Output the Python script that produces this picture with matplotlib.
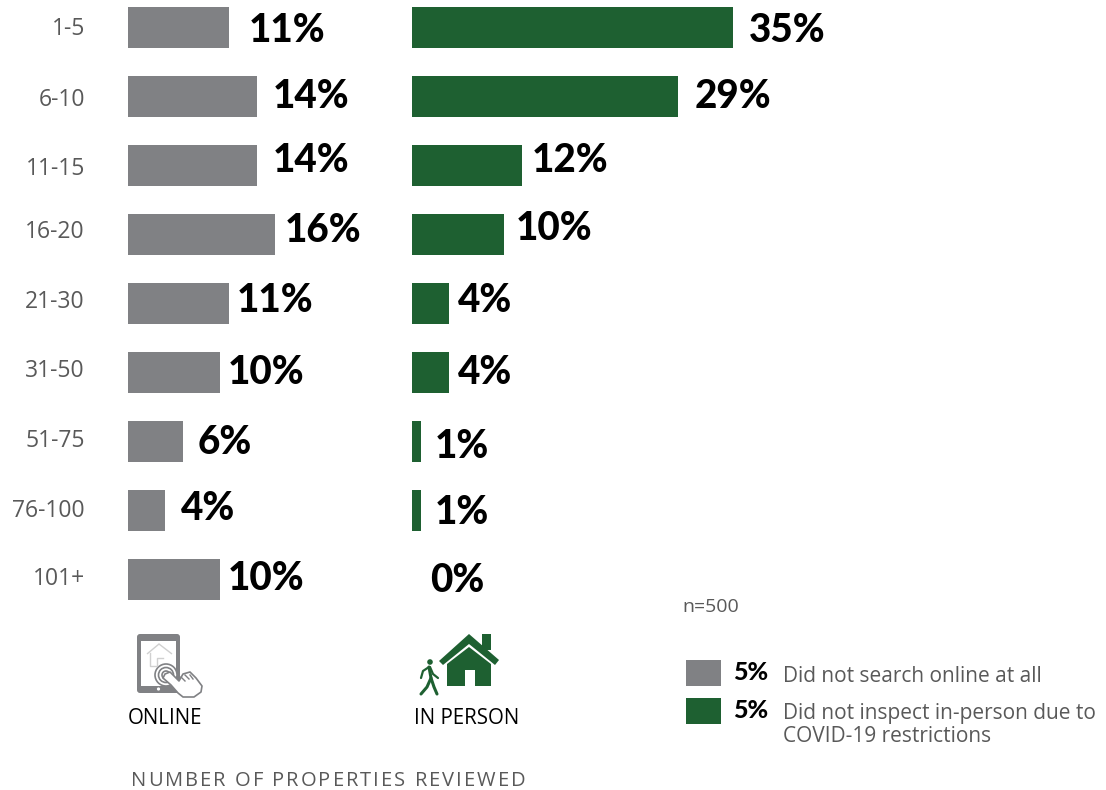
import matplotlib.pyplot as plt
from matplotlib.patches import Circle, FancyBboxPatch, Polygon, Rectangle

W, H = 1106, 790

categories = ["1-5", "6-10", "11-15", "16-20", "21-30", "31-50", "51-75", "76-100", "101+"]
online = [11, 14, 14, 16, 11, 10, 6, 4, 10]
in_person = [35, 29, 12, 10, 4, 4, 1, 1, 0]

no_online = 5
no_in_person = 5

# hand placed labels: gap after the bar and centre height, in pixels
online_gap = [20, 16, 16, 10, 8, 8, 15, 16, 8]
online_y = [30, 96, 161, 230, 300, 372, 442, 509, 579]
person_gap = [16, 16, 10, 12, 9, 9, 14, 14, 18]
person_y = [30, 96, 161, 228, 300, 372, 447, 512, 580]
cat_y = [29, 100, 169, 232, 302, 371, 441, 511, 579]

GREY = "#808184"
GREEN = "#1e6031"
TEXT = "#595959"
BODY = "Open Sans"
BOLD = "Lato"
PX_PER_PCT = 9.18
ROW = 69


def bar_axes(left, width):
    # axes whose x unit is one percentage point and y unit is one row
    ax = fig.add_axes([left / W, 1 - (27.5 + ROW * 8.5) / H, width / W, ROW * 9 / H])
    ax.set_xlim(0, width / PX_PER_PCT)
    ax.set_ylim(8.5, -0.5)
    ax.axis("off")
    ax.patch.set_alpha(0)
    return ax


def spaced_text(ax, x, y, s, gap, **kw):
    # matplotlib has no letter spacing, so place one glyph at a time
    rend = fig.canvas.get_renderer()
    for pair_end in range(len(s)):
        probe = ax.text(0, 0, s[: pair_end + 1] + ".", **kw)
        dot = ax.text(0, 0, ".", **kw)
        w_all = probe.get_window_extent(rend).width
        w_dot = dot.get_window_extent(rend).width
        w_last = ax.text(0, 0, s[pair_end] + ".", **kw)
        w_char = w_last.get_window_extent(rend).width - w_dot
        for t in (probe, dot, w_last):
            t.remove()
        ax.text(x + w_all - w_dot - w_char + gap * pair_end, y, s[pair_end], va="center", **kw)


fig = plt.figure(figsize=(W / 100, H / 100), dpi=100, facecolor="white")

ax1 = bar_axes(128, 270)
ax1.barh(range(len(categories)), online, height=0.59, color=GREY)
ax2 = bar_axes(412, 420)
ax2.barh(range(len(categories)), in_person, height=0.59, color=GREEN)

# overlay in pixel coordinates for text and icons
ov = fig.add_axes([0, 0, 1, 1])
ov.set_xlim(0, W)
ov.set_ylim(H, 0)
ov.axis("off")
ov.patch.set_alpha(0)

for i, cat in enumerate(categories):
    ov.text(85, cat_y[i], cat, ha="right", va="center", fontsize=16.5, color=TEXT, family=BODY)
    ov.text(128 + online[i] * PX_PER_PCT + online_gap[i], online_y[i], f"{online[i]}%",
            va="center", fontsize=27.8, fontweight="black", color="black", family=BOLD)
    ov.text(412 + in_person[i] * PX_PER_PCT + person_gap[i], person_y[i], f"{in_person[i]}%",
            va="center", fontsize=27.8, fontweight="black", color="black", family=BOLD)

ov.text(128, 719, "ONLINE", va="center", fontsize=14.8, color="black", family=BODY)
ov.text(414, 719, "IN PERSON", va="center", fontsize=14.8, color="black", family=BODY)
spaced_text(ov, 131, 781, "NUMBER OF PROPERTIES REVIEWED", 2.0, fontsize=14.5,
            color=TEXT, family=BODY)
ov.text(682, 607, "n=500", va="center", fontsize=14, color=TEXT, family=BODY)

# legend
ov.add_patch(Rectangle((686, 660), 35, 26, color=GREY, lw=0))
ov.add_patch(Rectangle((686, 698), 35, 26, color=GREEN, lw=0))
ov.text(733, 673, f"{no_online}%", va="center", fontsize=18, fontweight="black", family=BOLD)
ov.text(733, 710, f"{no_in_person}%", va="center", fontsize=18, fontweight="black", family=BOLD)
ov.text(783, 676, "Did not search online at all", va="center", fontsize=15, color=TEXT, family=BODY)
ov.text(783, 713, "Did not inspect in-person due to", va="center", fontsize=15, color=TEXT, family=BODY)
ov.text(783, 737, "COVID-19 restrictions", va="center", fontsize=15, color=TEXT, family=BODY)

# tablet icon
ov.add_patch(FancyBboxPatch((139, 636), 39, 55, boxstyle="round,pad=2,rounding_size=3",
                            fc=GREY, ec=GREY, lw=0))
ov.add_patch(Rectangle((141, 641), 35, 45, fc="white", ec="none"))
ov.add_patch(Polygon([(147, 654), (159, 644), (172, 654)], closed=False, fc="none",
                     ec="#d0d0d0", lw=1))
ov.plot([150, 150, 157, 157, 163], [653, 666, 666, 658, 658], color="#d0d0d0", lw=1)
for r, lw in [(11, 1.2), (7.5, 1.2), (4, 1.2)]:
    ov.add_patch(Circle((166, 675), r, fc="white", ec=GREY, lw=lw))
hand = [(165, 674), (170, 672), (179, 681), (183, 674), (190, 672), (196, 678), (202, 686),
        (201, 692), (194, 697), (183, 697), (178, 693), (171, 685), (163, 678)]
ov.add_patch(Polygon(hand, closed=True, fc="white", ec=GREY, lw=1.2, joinstyle="round"))
for x0, y0, x1, y1 in [(181, 677, 185, 681), (185, 675, 189, 679), (190, 675, 193, 679)]:
    ov.plot([x0, x1], [y0, y1], color=GREY, lw=1)
ov.add_patch(Circle((158.5, 689), 1.6, fc="white", ec="none"))

# house icon
ov.add_patch(Rectangle((482, 634), 9, 16, fc=GREEN, ec="none"))
ov.add_patch(Polygon([(469, 634), (499, 660), (495, 665), (469, 644), (443, 665), (439, 661)],
                     closed=True, fc=GREEN, ec="none"))
ov.add_patch(Polygon([(447, 664), (469, 647), (491, 664), (491, 686), (475, 686), (475, 670),
                      (465, 670), (465, 686), (447, 686)], closed=True, fc=GREEN, ec="none"))

# walking figure
ov.add_patch(Circle((430, 662), 2.8, fc=GREEN, ec="none"))
ov.plot([429, 431, 434, 437], [667, 678, 687, 694], color=GREEN, lw=2.2, solid_capstyle="round")
ov.plot([431, 427, 421], [678, 687, 694], color=GREEN, lw=2.2, solid_capstyle="round")
ov.plot([429, 423, 421], [667, 671, 678], color=GREEN, lw=1.6, solid_capstyle="round")
ov.plot([430, 433, 438], [667, 674, 678], color=GREEN, lw=1.6, solid_capstyle="round")

fig.savefig("out.png", dpi=100)
